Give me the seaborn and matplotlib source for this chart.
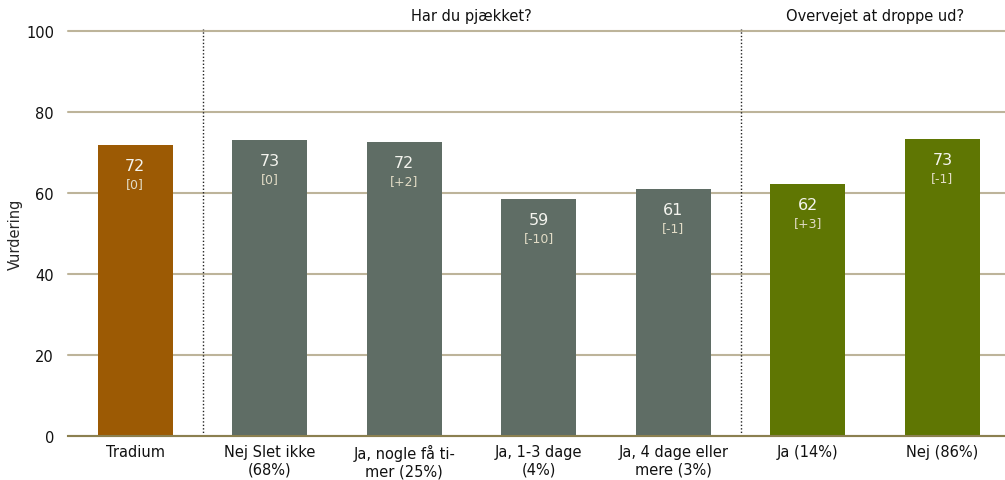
import numpy as np
import pandas as pd
import seaborn as sns
from matplotlib import pyplot as plt

sns.set_style("white")
plt.rcParams['font.family'] = ['DejaVu Sans']

categories = ["Tradium", "Nej Slet ikke\n(68%)", "Ja, nogle få ti-\nmer (25%)",
              "Ja, 1-3 dage\n(4%)", "Ja, 4 dage eller\nmere (3%)", "Ja (14%)", "Nej (86%)"]
values = [71.8, 73.1, 72.6, 58.5, 61.0, 62.2, 73.3]
shown = ["72", "73", "72", "59", "61", "62", "73"]
changes = ["[0]", "[0]", "[+2]", "[-10]", "[-1]", "[+3]", "[-1]"]
groups = ["Tradium", "Pjæk", "Pjæk", "Pjæk", "Pjæk", "Drop", "Drop"]
group_titles = ["Har du pjækket?", "Overvejet at droppe ud?"]

colors = {"Tradium": "#9C5A04", "Pjæk": "#5F6D65", "Drop": "#5F7603"}

df = pd.DataFrame({"cat": categories, "val": values, "grp": groups})

fig = plt.figure(figsize=(10.05, 4.81), dpi=100)
ax = fig.add_axes([68 / 1005, 44 / 481, 941.6 / 1005, 405 / 481])

sns.barplot(data=df, x="cat", y="val", hue="grp", palette=colors, dodge=False,
            width=0.56, saturation=1, legend=False, linewidth=0, ax=ax)

ax.set_xlim(-0.5, 6.5)
ax.set_ylim(0, 100)
ax.set_yticks([0, 20, 40, 60, 80, 100])
ax.yaxis.grid(True, color="#BDB49A", linewidth=1.5, clip_on=False)
for gl in ax.get_ygridlines():
    gl.set_clip_on(False)
ax.set_axisbelow(True)
for s in ["top", "right", "left"]:
    ax.spines[s].set_visible(False)
ax.spines["bottom"].set_color("#8B8050")
ax.spines["bottom"].set_linewidth(1.5)
ax.tick_params(axis="both", length=0, labelsize=10.5, colors="#111111")
ax.tick_params(axis="x", pad=6)
ax.tick_params(axis="y", pad=10)
ax.set_xlabel("")
ax.set_ylabel("Vurdering", fontsize=10.5, labelpad=2)

for i, (v, s, c) in enumerate(zip(values, shown, changes)):
    ax.annotate(s, (i, v), xytext=(0, -14.5), textcoords="offset points",
                ha="center", va="center", color="#F4F4EE", fontsize=11.5)
    ax.annotate(c, (i, v), xytext=(0, -27.5), textcoords="offset points",
                ha="center", va="center", color="#E2DCC6", fontsize=9)

for xd in [0.5, 4.5]:
    ax.axvline(xd, ymin=0, ymax=1.005, color="#222222", linestyle=(0, (1, 1.5)),
               linewidth=1, clip_on=False)

ax.text(2.5, 103.8, group_titles[0], ha="center", va="center", fontsize=10.5, color="#111111")
ax.text(5.5, 103.8, group_titles[1], ha="center", va="center", fontsize=10.5, color="#111111")

fig.savefig("out.png", dpi=100)
